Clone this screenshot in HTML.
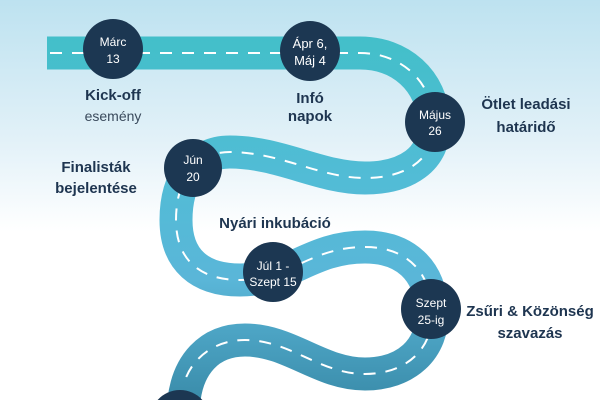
<!DOCTYPE html>
<html><head><meta charset="utf-8"><style>
html,body{margin:0;padding:0;overflow:hidden}
body{width:600px;height:400px;overflow:hidden;background:linear-gradient(180deg,#bde2f0 0%,#e2f1f8 35%,#ffffff 58%,#ffffff 100%);font-family:"Liberation Sans",sans-serif}
svg{display:block}
</style></head><body>
<svg width="600" height="400" viewBox="0 0 600 400" xmlns="http://www.w3.org/2000/svg">
<defs>
<linearGradient id="rg" x1="0" y1="0" x2="0" y2="400" gradientUnits="userSpaceOnUse">
<stop offset="0" stop-color="#3fc0c6"/>
<stop offset="0.45" stop-color="#52bcd6"/>
<stop offset="0.7" stop-color="#5ab6d8"/>
<stop offset="1" stop-color="#3a8caa"/>
</linearGradient>
</defs>
<path d="M47,53 H360 C400,53 432,80 434,122 C436,160 405,178 365,178 C320,178 280,152 230,152 C195,152 176,180 176,220 C176,260 200,280 240,280 C290,280 310,247 365,247 C405,247 430,270 432,310 C434,350 405,374 365,374 C320,374 290,340 245,340 C208,340 188,366 184,400" fill="none" stroke="url(#rg)" stroke-width="33" stroke-linecap="butt"/>
<path d="M47,53 H360 C400,53 432,80 434,122 C436,160 405,178 365,178 C320,178 280,152 230,152 C195,152 176,180 176,220 C176,260 200,280 240,280 C290,280 310,247 365,247 C405,247 430,270 432,310 C434,350 405,374 365,374 C320,374 290,340 245,340 C208,340 188,366 184,384" fill="none" stroke="#fff" stroke-width="2" stroke-dasharray="12 10" stroke-dashoffset="-25"/>
<g fill="#1c3752">
<circle cx="113" cy="49" r="30"/>
<circle cx="310" cy="51" r="30"/>
<circle cx="435" cy="122" r="30"/>
<circle cx="193" cy="168" r="29"/>
<circle cx="273" cy="272" r="30"/>
<circle cx="431" cy="309" r="30"/>
<path d="M157.6,400 A30,30 0 0 1 202.4,400 Z"/>
</g>
<g fill="#fff" font-size="12" text-anchor="middle" font-family="Liberation Sans, sans-serif">
<text x="113" y="46">Márc</text><text x="113" y="63">13</text>
<text x="310" y="48" font-size="13">Ápr 6,</text><text x="310" y="65" font-size="13">Máj 4</text>
<text x="435" y="119">Május</text><text x="435" y="135">26</text>
<text x="193" y="164">Jún</text><text x="193" y="181">20</text>
<text x="273" y="270">Júl 1 -</text><text x="273" y="286">Szept 15</text>
<text x="431" y="307">Szept</text><text x="431" y="324">25-ig</text>
</g>
<g fill="#1e3550" font-size="15" font-weight="bold" text-anchor="middle" font-family="Liberation Sans, sans-serif">
<text x="113" y="100">Kick-off</text>
<text x="113" y="121" font-weight="normal" font-size="14" fill="#3a4a5c">esemény</text>
<text x="310" y="103">Infó</text><text x="310" y="121">napok</text>
<text x="526" y="109">Ötlet leadási</text><text x="526" y="132">határidő</text>
<text x="96" y="172">Finalisták</text><text x="96" y="193">bejelentése</text>
<text x="275" y="228">Nyári inkubáció</text>
<text x="530" y="316">Zsűri &amp; Közönség</text><text x="530" y="338">szavazás</text>
</g>
</svg>
</body></html>
